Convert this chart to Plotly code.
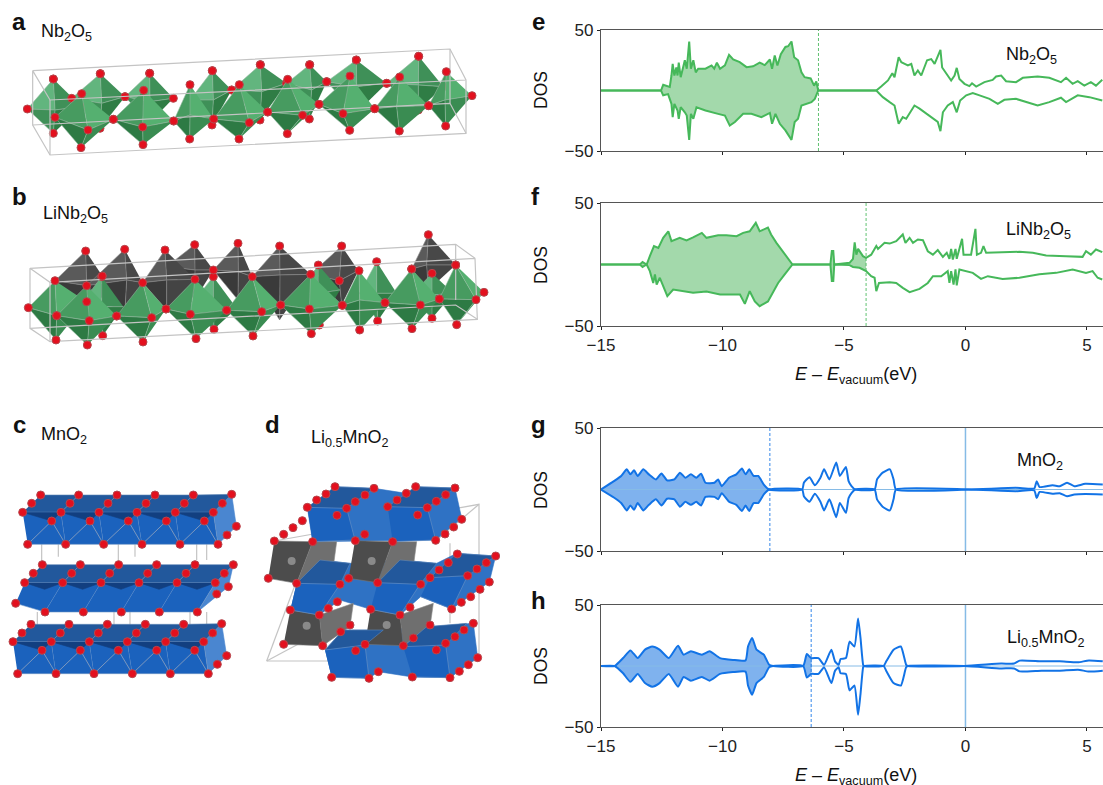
import plotly.graph_objects as go

W, H = 1103, 785
FONT = "Liberation Sans"
GREEN, GREEN_FILL = "#46b85a", "#a3d9ab"
BLUE, BLUE_FILL, BLUE_LIGHT = "#1273e6", "#7fb2ee", "#86bbe6"
AXC = "#555555"

# ---------- DOS data (energy in eV, DOS in states) ----------
e_up_x = [-15,-12.53,-12.44,-12.3,-12.17,-12.1,-12.05,-11.98,-11.9,-11.85,-11.8,-11.72,-11.62,-11.55,-11.47,-11.37,-11.3,-11.2,-11.1,-11,-10.7,-10.45,-10.34,-10.23,-10.1,-9.9,-9.73,-9.56,-9.29,-9.01,-8.74,-8.47,-8.26,-8.05,-7.96,-7.85,-7.74,-7.6,-7.41,-7.3,-7.16,-7.05,-6.89,-6.75,-6.62,-6.37,-6.23,-6.14,-6.06,-3.67,-3.47,-3.19,-3.01,-2.92,-2.75,-2.64,-2.5,-2.37,-2.23,-2.1,-1.96,-1.82,-1.58,-1.41,-1.27,-1.14,-1.03,-0.96,-0.79,-0.59,-0.45,-0.36,-0.25,-0.04,0.16,0.27,0.44,0.78,1.12,1.26,1.47,1.67,2.08,2.36,2.97,3.45,3.93,4.14,4.41,4.62,4.89,5.16,5.37,5.63]
e_up_y = [0,0,4.7,4,3,12.4,22,12.4,19,12.4,23,11,18,25,18,40.5,18,25,15,18,18,20.7,18,23,18,20.7,29.5,25.6,23.4,19.3,20,23,21,25.6,18,29,20.7,30,36,36.6,40.5,27.5,25,15,11,10,4,7.4,0,0,3.3,8.3,14.3,11,27.5,23.4,22,20.7,22,12.4,16.5,12.4,25,26,22,27.5,33.6,19,13.8,8.3,12.4,18.7,9.6,5.5,3.6,6,3.3,6.9,8.8,11.6,12.4,7.7,6.9,10.5,11.6,10.5,6.9,10.5,5.5,7.7,4.1,6.9,4,8.8]
e_dn_x = [-15,-12.53,-12.44,-12.24,-12.1,-12.05,-11.98,-11.85,-11.8,-11.72,-11.55,-11.47,-11.37,-11.3,-11.2,-11.07,-10.7,-10.38,-10.18,-9.9,-9.7,-9.49,-9.15,-8.81,-8.4,-8.05,-7.96,-7.82,-7.64,-7.41,-7.3,-7.16,-7.03,-6.89,-6.75,-6.55,-6.34,-6.2,-6.06,-3.67,-3.4,-3.12,-2.92,-2.75,-2.58,-2.44,-2.23,-2.1,-1.89,-1.68,-1.48,-1.14,-1.03,-0.93,-0.73,-0.52,-0.36,-0.22,0.03,0.3,0.58,0.99,1.33,1.6,2.08,2.63,2.97,3.45,3.93,4.14,4.62,5.1,5.63]
e_dn_y = [0,0,-4,-3,-11,-22,-11,-16.5,-23.4,-13.8,-18,-20.7,-40.8,-19.3,-23.4,-13.8,-16.5,-18.5,-19.3,-20.7,-29,-26,-19.3,-19.3,-22,-18.5,-27.5,-19.3,-27.5,-33,-36,-40.8,-26,-23.4,-12.4,-11,-9.6,-7,0,0,-5.5,-9.6,-12.4,-27.5,-22,-23.4,-16.5,-12.4,-15,-18,-20.7,-26,-33.6,-18,-12.4,-9.6,-18,-8.3,-4,-2.2,-4,-6.9,-11,-7.7,-6.9,-10.5,-12.4,-9.6,-6,-9.6,-4,-5.5,-8.3]
e_fermi = -6.05

f_up_x = [-15,-13.4,-13.29,-13.12,-12.99,-12.82,-12.64,-12.44,-12.23,-12.1,-11.76,-11.48,-11.21,-10.85,-10.66,-10.18,-9.84,-9.42,-9.15,-8.88,-8.63,-8.47,-8.13,-8,-7.78,-7.58,-7.37,-7.12,-5.56,-5.5,-5.44,-5.4,-4.77,-4.63,-4.56,-4.49,-4.42,-4.33,-4.22,-4.09,-3.88,-3.67,-3.6,-3.33,-3.12,-2.85,-2.58,-2.47,-2.3,-2.16,-1.96,-1.75,-1.55,-1.34,-1.14,-0.93,-0.77,-0.66,-0.59,-0.52,-0.41,-0.36,-0.14,-0.08,0.23,0.41,0.47,0.64,0.74,0.85,1.4,2.22,2.77,3.32,4.14,4.82,4.96,5.16,5.37,5.63]
f_up_y = [0,0,2,0,6.8,15,13.5,21.7,27,19,21.7,19.5,22,25.7,21.7,23.8,23.8,23,25.7,27,33.9,27,30,24.4,17.6,12,6.8,0,0,11,11,0,1.4,4.6,18,8,12.7,9.5,6.8,5.4,8,15,12.7,17.6,17,19,24.4,17.6,21.7,17.6,20.3,19.8,10.8,8,11.7,6.2,9.5,4.6,12.7,4,12.7,4.6,20.9,8,8,29,8,9.5,15,9.5,10,10.3,9.5,7.3,6.8,6.2,10.8,8,12.2,10]
f_dn_x = [-15,-13.4,-13.29,-13.12,-12.99,-12.85,-12.78,-12.71,-12.58,-12.44,-12.27,-12.03,-11.62,-11.21,-10.66,-10.1,-9.56,-9.28,-9.08,-8.88,-8.67,-8.47,-8.13,-7.95,-7.71,-7.44,-7.12,-5.56,-5.5,-5.44,-5.4,-4.77,-4.63,-4.36,-4.09,-3.88,-3.74,-3.67,-3.56,-3.12,-2.85,-2.58,-2.3,-1.89,-1.55,-1.34,-1,-0.73,-0.66,-0.59,-0.49,-0.41,-0.36,-0.25,0.3,0.64,0.92,1.53,2.22,3.04,3.73,4.41,4.96,5.23,5.44,5.63]
f_dn_y = [0,0,-2,0,-5.4,-15,-8,-16.3,-10.8,-17.6,-25.7,-20.3,-21.7,-23,-22,-24.4,-24.4,-24.4,-32,-21.7,-30,-33.9,-30,-23,-15,-8,0,0,-13.4,-13.4,0,-0.5,-2,-2.7,-5.4,-9.5,-10.8,-21.7,-15,-14.4,-15,-19,-22.5,-19.8,-15,-9.5,-9.5,-5.4,-15,-5.4,-16.3,-4,-17,-4,-6.8,-11.7,-9.5,-11.7,-10.8,-8,-6.8,-4,-6.8,-5.4,-10.8,-12.2]
f_fermi = -4.09

g_up_x = [-15,-14.47,-14.17,-13.94,-13.79,-13.64,-13.49,-13.26,-13.03,-12.74,-12.51,-12.28,-11.98,-11.75,-11.53,-11.3,-11.08,-10.88,-10.7,-10.33,-10.18,-10.03,-9.73,-9.43,-9.2,-9.05,-8.9,-8.72,-8.53,-8.3,-8.08,-6.72,-6.65,-6.42,-6.2,-5.97,-5.82,-5.6,-5.32,-5.17,-4.92,-4.81,-4.69,-4.54,-3.74,-3.64,-3.41,-3.11,-2.96,-2.86,0.12,2.08,2.83,2.93,3.05,3.58,3.88,4.18,4.48,4.93,5.65]
g_up_y = [0,6.8,11,16.4,12.3,15.6,11,16.4,12.3,8.2,13,7.4,8.2,13.7,9.6,12.3,9.6,12.8,5.5,5.5,8.2,2.7,9.6,12.3,17,12.3,16.4,11,11,4,0,0,5.5,10,3.5,9.6,16.4,8.2,22,11,18.3,6.8,2.7,0,0,8.2,13.7,16.4,8.2,0,0,1.4,0.8,6.8,2,3.5,2.7,5.5,2.7,4.6,4]
g_dn_x = g_up_x
g_dn_y = [0,-6.5,-11,-17,-13,-16.5,-11,-17,-12.5,-8,-13,-7.5,-8,-14,-10,-12.5,-10,-13,-6,-6,-8,-3,-10,-12.5,-17.5,-13,-17.5,-11,-11,-4,0,0,-5.5,-10,-3.5,-10,-17,-8,-22.5,-11,-19,-7,-3,0,0,-8,-14,-17,-8,0,0,-1.4,-0.8,-7,-2,-3.5,-3,-5.5,-4,-3.6,-4]
g_fermi = -8.05

h_up_x = [-15,-14.44,-14.09,-13.79,-13.49,-13.19,-12.89,-12.59,-12.21,-11.83,-11.6,-11.3,-10.85,-10.53,-10.1,-9.57,-9.05,-8.95,-8.78,-8.6,-8.3,-8.08,-7.92,-6.68,-6.53,-6.35,-6.05,-5.82,-5.52,-5.37,-5.22,-5.14,-4.92,-4.77,-4.57,-4.42,-4.32,-4.21,-4.17,-3.37,-3.26,-2.96,-2.66,-2.44,-2.36,-0.03,1.47,2.0,2.23,3.13,3.88,4.63,5.08,5.65]
h_up_y = [0,0,6.5,12.8,6.5,13.4,16,13.4,6.5,16.6,9.3,12,9.3,12,6.5,5,4.6,16,23,13.4,9.3,1,0,0,9.8,6.5,6.5,1,13.4,3.8,1,5.7,6.5,20,16,39,23,1,0,0,3.8,13.4,16,1,0,0,2,2,4.4,3.8,3.8,3,4.6,3.8]
h_dn_x = h_up_x
h_dn_y = [0,0,-6,-13,-6.5,-14,-17,-14,-6.5,-17,-9,-12,-9,-12,-6.5,-5,-4.6,-16,-23.5,-14,-9,-1,0,0,-9.5,-6.5,-6.5,-1,-14,-4,-1,-6,-6.5,-20,-16,-40,-23,-1,0,0,-4,-14,-16,-1,0,0,-2,-2,-4.4,-3.8,-3.8,-3,-4.6,-3.8]
h_fermi = -6.35

x_ticks = [-15, -10, -5, 0, 5]
y_ticks = [-50, 50]

# ---------- structure sketches (vertices, in 3x pixels) ----------
a_back = [((160,237),(160,400),(82,327),(245,320),(165,330)),((301,221),(300,385),(215,295),(375,290),(305,310)),((449,220),(448,370),(375,290),(520,295),(450,305)),((637,212),(636,375),(570,300),(695,270),(640,300)),((781,194),(780,360),(695,270),(860,250),(785,275)),((929,194),(928,357),(860,250),(980,245),(935,270)),((1069,180),(1068,340),(980,245),(1160,250),(1070,260)),((1256,169),(1255,330),(1160,250),(1330,260),(1255,255))]
a_front = [((245,281),(243,443),(165,352),(340,358),(264,390)),((431,271),(429,434),(340,358),(521,363),(428,381)),((570,254),(569,417),(521,363),(641,357),(570,345)),((718,254),(717,417),(641,357),(803,336),(748,368)),((863,238),(862,401),(803,336),(957,313),(908,346)),((1050,228),(1049,391),(957,313),(1124,326),(1029,341)),((1199,231),(1198,393),(1124,326),(1286,317),(1190,320)),((1339,215),(1337,378),(1286,317),(1416,287),(1335,300))]
a_extra = [(264,390),(428,381),(748,368),(908,346),(1029,341)]
a_cell = [[(98,212),(1350,147),(1398,240),(150,300),(98,212),(98,375),(150,465),(1398,400),(1398,240)],[(150,300),(150,465)],[(1350,147),(1350,310)],[(98,375),(1350,310),(1398,400)]]

b_grey = [((257,753),(260,960),(165,842),(307,828),(260,857)),((374,748),(374,950),(260,857),(428,848),(380,840)),((584,734),(584,900),(500,800),(640,810),(585,810)),((495,750),(500,930),(428,848),(585,838),(500,840)),((714,730),(714,900),(640,810),(757,830),(715,815)),((839,738),(839,960),(757,830),(932,823),(840,825)),((1025,738),(1025,915),(932,823),(1075,812),(1018,842)),((1285,704),(1285,870),(1235,807),(1367,795),(1280,795))]
b_back = [((305,830),(308,1007),(230,930),(370,920),(305,920)),((640,830),(642,988),(560,930),(710,925),(640,920)),((955,795),(958,975),(900,880),(1020,870),(955,880)),((1130,785),(1133,963),(1078,880),(1190,880),(1130,880)),((1296,820),(1296,955),(1230,890),(1360,880),(1296,885))]
b_front = [((165,842),(168,1020),(85,923),(260,905),(170,947)),((260,857),(262,1035),(170,947),(350,948),(268,962)),((428,848),(429,1026),(350,948),(498,927),(455,953)),((585,838),(588,1016),(498,927),(680,931),(571,943)),((757,830),(759,1008),(680,931),(842,915),(785,935)),((932,823),(934,1001),(842,915),(1027,916),(928,927)),((1077,812),(1079,990),(1027,916),(1155,908),(1079,900)),((1235,807),(1236,986),(1155,908),(1318,897),(1261,915)),((1367,795),(1370,974),(1318,897),(1452,877),(1428,899))]
b_extra = [(170,947),(268,962),(455,953),(571,943),(785,935),(928,927),(1261,915),(1428,899),(1018,842)]
b_cell = [[(90,805),(1367,733),(1425,775),(150,847),(90,805),(90,985),(150,1025),(1432,958),(1425,775)],[(150,847),(150,1025)],[(1367,733),(1367,900)],[(90,985),(1367,915),(1432,958)]]

OFF = 1200  # panels c and d were read with the crop starting 400 px down
c_layers = [
    dict(bottom=[(83,433),(197,433),(311,433),(426,433),(540,433),(654,433)], upper=[(68,337),(183,337),(297,337),(411,337),(526,337),(640,337)], middle=[(155,363),(270,363),(385,363),(499,363),(613,363)], back1=[(95,310),(210,310),(324,310),(438,310),(553,310),(667,310)], back2=[(122,285),(236,285),(351,285),(465,285),(580,285),(695,283)], right=[(709,379),(681,405)]),
    dict(bottom=[(47,610),(135,636),(250,636),(364,636),(478,636),(592,636)], upper=[(74,548),(188,548),(303,548),(417,548),(531,548),(646,548)], middle=[], back1=[(100,520),(215,520),(329,520),(443,520),(558,520),(673,520)], back2=[(127,494),(241,494),(356,494),(470,494),(585,494),(700,494)], right=[(685,560),(650,582)]),
    dict(bottom=[(53,821),(168,821),(282,821),(397,821),(511,821),(625,821)], upper=[(39,725),(154,725),(268,725),(382,725),(497,725),(611,725)], middle=[(126,751),(241,751),(355,751),(470,751),(584,751)], back1=[(66,699),(181,699),(295,699),(409,699),(524,699),(638,699)], back2=[(93,673),(207,673),(322,673),(436,673),(551,673),(665,671)], right=[(680,767),(652,793)]),
]
c_rods = [[(125,433),(125,500)],[(175,433),(175,470)],[(355,433),(355,500)],[(405,433),(405,470)],[(590,433),(590,480)],[(620,433),(620,480)],[(112,636),(112,680)],[(342,636),(342,680)],[(390,636),(390,680)],[(570,636),(570,680)],[(620,636),(620,680)]]

d_layer_backs = [[(1005,260),(1122,265),(1219,280),(1247,260),(1365,264),(1385,355),(1307,420),(938,425),(922,322)],
                 [(890,550),(960,480),(1050,490),(1200,480),(1310,490),(1370,460),(1487,468),(1468,546),(1355,627),(1262,590),(1200,645),(1112,628),(1020,600),(958,645),(871,630)],
                 [(975,750),(1030,690),(1150,690),(1280,680),(1420,670),(1433,773),(1350,833),(1237,831),(1135,815),(1107,835),(995,832)]]
d_grey_side = [[(938,425),(1010,425),(1000,500),(890,550)],[(1178,425),(1250,425),(1240,500),(1133,548)],[(958,645),(1060,610),(1050,680),(968,737)],[(1200,645),(1300,610),(1290,680),(1210,737)]]
d_grey = [[(823,423),(938,425),(890,550),(805,535)],[(1065,422),(1178,425),(1133,548),(1046,535)],[(871,630),(958,645),(968,737),(851,733)],[(1112,628),(1200,645),(1210,737),(1095,733)]]
d_balls = [(875,483),(1115,483),(920,677),(1160,675)]
d_blue_front = [[(922,322),(1040,325),(1065,420),(938,425)],[(1163,320),(1282,323),(1307,420),(1178,425)],[(890,550),(1020,553),(958,645),(871,630)],[(1133,548),(1260,553),(1200,645),(1112,628)],[(1290,533),(1403,527),(1355,627),(1262,590)],[(975,750),(1095,735),(1107,835),(995,832)],[(1210,740),(1337,735),(1350,833),(1237,831)]]
d_blue_top = [[(922,322),(1005,260),(1122,265),(1040,325)],[(1163,320),(1247,260),(1365,264),(1282,323)],[(890,550),(960,480),(1050,490),(1020,553)],[(1133,548),(1200,480),(1310,490),(1260,553)],[(1290,533),(1370,460),(1487,468),(1403,527)],[(975,750),(1030,690),(1150,690),(1095,735)],[(1210,740),(1280,680),(1400,670),(1337,735)]]
d_oxygen = [(1005,260),(1122,265),(978,282),(1095,285),(950,300),(1066,305),(922,322),(1040,325),(1011,346),(1247,260),(1365,264),(1219,280),(1337,284),(1191,300),(1309,304),(1163,320),(1282,323),(1253,345),(1385,358),(1361,381),(1335,402),(1307,421),(907,362),(879,383),(851,403),(823,423),(938,425),(1066,422),(1178,425),(1094,403),(805,535),(890,550),(1020,553),(1046,535),(1133,548),(1262,553),(1290,533),(1317,510),(1345,488),(1372,462),(1403,527),(1431,507),(1459,488),(1487,468),(1468,546),(1440,568),(1412,590),(1384,607),(1355,627),(871,630),(958,645),(1112,628),(1200,645),(985,625),(1012,605),(1230,622),(851,733),(968,737),(1095,733),(1210,737),(1067,752),(1309,750),(995,832),(1107,835),(1135,815),(1237,831),(1350,833),(1378,814),(1405,794),(1433,773),(1420,670),(1392,690),(1365,710),(1337,730),(1240,714),(1290,675),(1022,695),(1050,675)]
d_cell = [[(823,423),(1437,313),(1437,780)],[(800,783),(1437,783)],[(800,783),(885,555)],[(800,783),(1030,660)],[(1437,313),(1310,420)],[(1350,430),(1350,670)]]

# ---------- figure ----------
fig = go.Figure()
panels = [("", e_up_x, e_up_y, e_dn_x, e_dn_y, e_fermi, 30, 151, GREEN, GREEN_FILL, False, False),
          ("2", f_up_x, f_up_y, f_dn_x, f_dn_y, f_fermi, 203, 326, GREEN, GREEN_FILL, True, False),
          ("3", g_up_x, g_up_y, g_dn_x, g_dn_y, g_fermi, 428, 551, BLUE, BLUE_FILL, False, True),
          ("4", h_up_x, h_up_y, h_dn_x, h_dn_y, h_fermi, 605, 727, BLUE, BLUE_FILL, True, True)]
X0 = 601
for sfx, ux, uy, dx, dy, ef, top, bot, col, fil, labels, vac in panels:
    xa, ya = "x" + sfx, "y" + sfx
    shape = dict(shape="spline", smoothing=0.5) if vac else dict(shape="linear")
    pu = [(a, b) for a, b in zip(ux, uy) if a <= ef]
    pd = [(a, b) for a, b in zip(dx, dy) if a <= ef]
    fx = [p[0] for p in pu] + [p[0] for p in reversed(pd)]
    fy = [p[1] for p in pu] + [p[1] for p in reversed(pd)]
    fig.add_trace(go.Scatter(x=fx, y=fy, mode="lines", fill="toself", fillcolor=fil, line=dict(width=0, **shape), xaxis=xa, yaxis=ya, hoverinfo="skip"))
    if vac:
        fig.add_trace(go.Scatter(x=[-15, 5.66], y=[0, 0], mode="lines", line=dict(color=BLUE_LIGHT, width=1), xaxis=xa, yaxis=ya))
        fig.add_trace(go.Scatter(x=[0, 0], y=[-50, 50], mode="lines", line=dict(color=BLUE_LIGHT, width=1.5), xaxis=xa, yaxis=ya))
    fig.add_trace(go.Scatter(x=[ef, ef], y=[-50, 50], mode="lines", line=dict(color=col, width=1, dash="3px,2px"), opacity=0.85, xaxis=xa, yaxis=ya))
    for xs, ys in ((ux, uy), (dx, dy)):
        fig.add_trace(go.Scatter(x=xs, y=ys, mode="lines", line=dict(color=col, width=2, **shape), xaxis=xa, yaxis=ya))
    ax = dict(range=[-15, 5.66], domain=[X0 / W, 1], showgrid=False, zeroline=False, showline=True, mirror=True, linecolor=AXC, linewidth=1.4,
              ticks="outside", ticklen=3, tickwidth=1.4, tickcolor="#222", tickvals=x_ticks, showticklabels=labels, automargin=False,
              tickfont=dict(family=FONT, size=17, color="#222"), anchor=ya)
    ay = dict(range=[-50, 50], domain=[1 - bot / H, 1 - top / H], showgrid=False, zeroline=False, showline=True, linecolor=AXC, linewidth=1.4,
              ticks="outside", ticklen=3, tickwidth=1.4, tickcolor="#222", tickvals=y_ticks, automargin=False,
              tickfont=dict(family=FONT, size=17, color="#222"), anchor=xa)
    fig.update_layout({"xaxis" + sfx: ax, "yaxis" + sfx: ay})

S = dict(xaxis="x5", yaxis="y5", hoverinfo="skip")
LEFT = 530
fig.update_layout(xaxis5=dict(domain=[0, LEFT / W], range=[0, LEFT * 3], visible=False, anchor="y5", automargin=False),
                  yaxis5=dict(domain=[0, 1], range=[H * 3, 0], visible=False, anchor="x5", automargin=False))

def poly(pts, color, off=0, edge=None):
    fig.add_trace(go.Scatter(x=[p[0] for p in pts], y=[p[1] + off for p in pts], mode="lines", fill="toself", fillcolor=color,
                             line=dict(color=edge or color, width=0.6), **S))

def wire(paths, off=0, color="#c4c4c4", width=1.2):
    for pts in paths:
        fig.add_trace(go.Scatter(x=[p[0] for p in pts], y=[p[1] + off for p in pts], mode="lines", line=dict(color=color, width=width), **S))

def atoms(pts, off=0, size=8):
    fig.add_trace(go.Scatter(x=[p[0] for p in pts], y=[p[1] + off for p in pts], mode="markers",
                             marker=dict(color="#e3101e", size=size, line=dict(color="#b5484e", width=1)), **S))

PAL_G = ("#479b60", "#55b070", "#2d7a44", "#3a8c52")
PAL_GB = ("#62b57e", "#3f9058", "#3f9058", "#2f7d45")
PAL_K = ("#5a5a5a", "#484848", "#3a3a3a", "#444444")

def octa(o, pal):
    T, B, L, R, F = o
    edge = "#8a8a8a" if pal is PAL_K else "#8fb79c"
    poly([T, L, F], pal[0], edge=edge)
    poly([T, F, R], pal[1], edge=edge)
    poly([B, L, F], pal[2], edge=edge)
    poly([B, F, R], pal[3], edge=edge)

for o in a_back: octa(o, PAL_GB)
atoms([v for o in a_back for v in o[:4]])
for o in a_front: octa(o, PAL_G)
wire(a_cell)
atoms([v for o in a_front for v in o[:4]] + [o[0] for o in a_back[:3]] + [o[0] for o in a_back[-5:]] + a_extra)
for o in b_grey: octa(o, PAL_K)
atoms([v for o in b_grey for v in o[:1]])
for o in b_back: octa(o, PAL_GB)
atoms([v for o in b_back for v in o[:2]])
for o in b_front: octa(o, PAL_G)
wire(b_cell)
atoms([v for o in b_front for v in o[:4]] + b_extra + [b_grey[-1][3], b_grey[-1][2], (307, 828), (640, 810)])

wire(c_rods, OFF)
for L in c_layers:
    n = len(L["upper"]) - 1
    poly([L["upper"][-1], L["back2"][-1], L["right"][0], L["bottom"][-1]], "#4a86d0", OFF)
    for i in range(n, -1, -1):
        if i < n:
            poly([L["upper"][i], L["upper"][i + 1], L["back2"][i + 1], L["back2"][i]], "#22589c", OFF, "#5f86b5")
    for i in range(n):
        poly([L["upper"][i], L["upper"][i + 1], L["bottom"][i + 1], L["bottom"][i]], "#1b62bd", OFF, "#6d93c4")
        if L["middle"]:
            poly([L["upper"][i], L["middle"][i], L["upper"][i + 1]], "#123f80", OFF)
            wire([[L["bottom"][i], L["middle"][i], L["bottom"][i + 1]]], OFF, "#7b97bd", 1)
        else:
            poly([L["upper"][i], (L["upper"][i][0] + 60, L["upper"][i][1] + 20), L["upper"][i + 1]], "#123f80", OFF)
    atoms(L["back2"] + L["back1"] + L["upper"] + L["bottom"] + L["middle"] + L["right"], OFF)

wire(d_cell, OFF)
for p in d_layer_backs: poly(p, "#2f72c4", OFF)
for p in d_grey_side: poly(p, "#6f6f6f", OFF, "#8a8a8a")
for p in d_grey: poly(p, "#4c4c4c", OFF, "#777777")
fig.add_trace(go.Scatter(x=[p[0] for p in d_balls], y=[p[1] + OFF for p in d_balls], mode="markers", marker=dict(color="#8a8a8a", size=8), **S))
for p in d_blue_top: poly(p, "#22589c", OFF, "#5f86b5")
for p in d_blue_front: poly(p, "#1b62bd", OFF, "#6d93c4")
atoms(d_oxygen, OFF)

def text(px, py, s, size=18, color="#111", bold=False, angle=0, xanchor="center"):
    if bold: s = "<b>" + s + "</b>"
    fig.add_annotation(x=px / W, y=1 - py / H, xref="paper", yref="paper", text=s, showarrow=False, textangle=angle,
                       xanchor=xanchor, yanchor="middle", font=dict(family=FONT, size=size, color=color))

for s, px, py in [("a", 19, 22), ("b", 19, 197), ("c", 19, 424), ("d", 272, 424), ("e", 538, 22), ("f", 535, 197), ("g", 538, 424), ("h", 538, 600)]:
    text(px, py, s, size=24, bold=True)

NB = "Nb<sub>2</sub>O<sub>5</sub>"
LNB = "LiNb<sub>2</sub>O<sub>5</sub>"
MN = "MnO<sub>2</sub>"
LMN = "Li<sub>0.5</sub>MnO<sub>2</sub>"
for s, px, py in [(NB, 66, 33), (LNB, 75, 215), (MN, 64, 435), (LMN, 350, 438), (NB, 1031, 56), (LNB, 1038, 231), (MN, 1040, 461), (LMN, 1046, 638)]:
    text(px, py, s, size=18)
for py in (90, 265, 490, 666):
    text(541, py, "DOS", size=17.5, angle=-90)
XL = "<i>E</i> – <i>E</i><sub>vacuum</sub>(eV)"
text(856, 375, XL, size=18)
text(856, 776, XL, size=18)

fig.update_layout(template="none", width=W, height=H, margin=dict(l=0, r=0, t=0, b=0, pad=0), showlegend=False, plot_bgcolor="rgba(0,0,0,0)", paper_bgcolor="white")
fig.write_html("out.html", config={"displayModeBar": False}, post_script="document.body.style.margin='0';document.body.style.overflow='hidden';")
